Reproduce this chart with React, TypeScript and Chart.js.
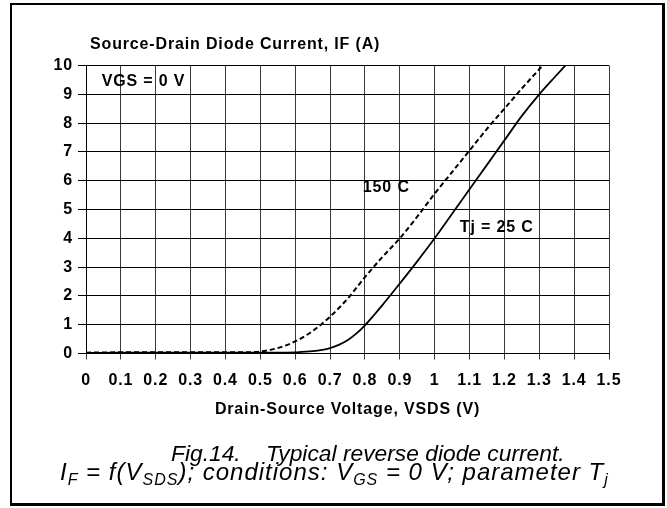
import React, { useEffect, useRef } from "react";
import { Chart, registerables } from "chart.js";

Chart.register(...registerables);

const FONT = '"Liberation Sans", Arial, Helvetica, sans-serif';

// ---- data ----
const xTickLabels = ["0", "0.1", "0.2", "0.3", "0.4", "0.5", "0.6", "0.7", "0.8", "0.9", "1", "1.1", "1.2", "1.3", "1.4", "1.5"];
const yTickLabels = ["0", "1", "2", "3", "4", "5", "6", "7", "8", "9", "10"];

// Tj = 25 C (solid)
const vds25 = [0, 0.1, 0.2, 0.3, 0.4, 0.5, 0.55, 0.6, 0.65, 0.7, 0.725, 0.75, 0.775, 0.8, 0.825, 0.85, 0.9, 0.95, 1.0, 1.05, 1.1, 1.15, 1.2, 1.25, 1.3, 1.35, 1.375];
const if25 = [0.02, 0.03, 0.03, 0.03, 0.03, 0.03, 0.03, 0.04, 0.08, 0.19, 0.3, 0.46, 0.69, 0.98, 1.32, 1.68, 2.43, 3.2, 4.0, 4.85, 5.7, 6.55, 7.4, 8.25, 9.0, 9.67, 10.0];

// Tj = 150 C (dashed)
const vds150 = [0, 0.1, 0.2, 0.3, 0.4, 0.45, 0.5, 0.55, 0.6, 0.65, 0.7, 0.75, 0.8, 0.85, 0.9, 0.95, 1.0, 1.05, 1.1, 1.15, 1.2, 1.25, 1.3, 1.31];
const if150 = [0.03, 0.04, 0.04, 0.04, 0.04, 0.04, 0.07, 0.19, 0.42, 0.78, 1.28, 1.9, 2.65, 3.35, 4.0, 4.75, 5.55, 6.3, 7.05, 7.8, 8.5, 9.2, 9.87, 10.0];

const yAxisTitle = "Source-Drain Diode Current, IF (A)";
const xAxisTitle = "Drain-Source Voltage, VSDS (V)";
const labelVgs = "VGS = 0 V";
const label150 = "150 C";
const label25 = "Tj = 25 C";

const LS = "0.85px";

const textPlugin = {
  id: "chartTexts",
  beforeDraw(chart: any) {
    (chart.ctx as any).letterSpacing = LS;
  },
  afterDraw(chart: any) {
    const { ctx, chartArea, scales } = chart;
    const xs = scales.x;
    const ys = scales.y;
    ctx.save();
    (ctx as any).letterSpacing = LS;
    ctx.fillStyle = "#000";
    ctx.font = `bold 16px ${FONT}`;
    ctx.textBaseline = "middle";
    ctx.textAlign = "left";
    ctx.fillText(yAxisTitle, chartArea.left + 4, chartArea.top - 20.5);
    ctx.fillText(labelVgs, xs.getPixelForValue(0.045), ys.getPixelForValue(9.45));
    ctx.fillText(label150, xs.getPixelForValue(0.794), ys.getPixelForValue(5.75));
    ctx.fillText(label25, xs.getPixelForValue(1.072), ys.getPixelForValue(4.36));
    ctx.restore();
    (ctx as any).letterSpacing = "0px";
  },
};

export default function App() {
  const ref = useRef<HTMLCanvasElement | null>(null);

  useEffect(() => {
    if (!ref.current) return;
    const chart = new Chart(ref.current, {
      type: "scatter",
      data: {
        datasets: [
          {
            label: "Tj = 25 C",
            data: vds25.map((v, i) => ({ x: v, y: if25[i] })),
            showLine: true,
            borderColor: "#000",
            borderWidth: 1.8,
            pointRadius: 0,
            cubicInterpolationMode: "monotone",
          },
          {
            label: "150 C",
            data: vds150.map((v, i) => ({ x: v, y: if150[i] })),
            showLine: true,
            borderColor: "#000",
            borderWidth: 2,
            borderDash: [5, 3],
            pointRadius: 0,
            cubicInterpolationMode: "monotone",
          },
        ],
      },
      options: {
        animation: false,
        responsive: false,
        devicePixelRatio: 1,
        layout: { padding: { left: 0, top: 65.5, right: 58, bottom: 84.5 } },
        plugins: { legend: { display: false }, tooltip: { enabled: false }, title: { display: false } },
        scales: {
          x: {
            type: "linear",
            min: 0,
            max: 1.5,
            afterFit: (s: any) => { s.height = 70; },
            ticks: {
              stepSize: 0.1,
              autoSkip: false,
              maxRotation: 0,
              padding: 11,
              color: "#000",
              font: { family: FONT, size: 16, weight: "bold" },
              callback: (_v: any, i: number) => xTickLabels[i],
            },
            grid: { color: "#3a3a3a", lineWidth: 1, tickLength: 6, drawTicks: true },
            border: { display: true, color: "#000", width: 1 },
            title: {
              display: true,
              text: xAxisTitle,
              color: "#000",
              font: { family: FONT, size: 16, weight: "bold" },
              padding: { top: 0, bottom: 4.5 },
            },
          },
          y: {
            type: "linear",
            min: 0,
            max: 10,
            afterFit: (s: any) => { s.width = 86; },
            ticks: {
              stepSize: 1,
              padding: 5,
              color: "#000",
              font: { family: FONT, size: 16, weight: "bold" },
              callback: (_v: any, i: number) => yTickLabels[i],
            },
            grid: { color: "#000", lineWidth: 1, tickLength: 8, drawTicks: true },
            border: { display: true, color: "#000", width: 1 },
          },
        },
      },
      plugins: [textPlugin],
    } as any);
    return () => chart.destroy();
  }, []);

  const capStyle: React.CSSProperties = {
    position: "absolute",
    fontFamily: FONT,
    fontStyle: "italic",
    fontSize: 22.8,
    lineHeight: "22px",
    whiteSpace: "pre",
    color: "#000",
    margin: 0,
  };
  const sub: React.CSSProperties = { fontSize: 16, verticalAlign: "-5px", lineHeight: 0 };

  return (
    <div style={{ position: "absolute", left: 0, top: 0, width: 667, height: 508, background: "#fff", overflow: "hidden" }}>
      <div
        style={{
          position: "absolute",
          left: 10,
          top: 3,
          width: 650,
          height: 498,
          borderLeft: "2px solid #000",
          borderTop: "2px solid #000",
          borderRight: "3px solid #000",
          borderBottom: "3px solid #000",
        }}
      />
      <canvas ref={ref} width={667} height={508} style={{ position: "absolute", left: 0, top: 0, width: 667, height: 508 }} />
      <div style={{ ...capStyle, left: 171, top: 441.5 }}>Fig.14.    Typical reverse diode current.</div>
      <div style={{ ...capStyle, fontSize: 24, left: 60, top: 460.7, letterSpacing: "1px" }}>
        I<span style={sub}>F</span> = f(V<span style={sub}>SDS</span>); conditions: V<span style={sub}>GS</span> = 0 V; parameter T<span style={sub}>j</span>
      </div>
    </div>
  );
}
